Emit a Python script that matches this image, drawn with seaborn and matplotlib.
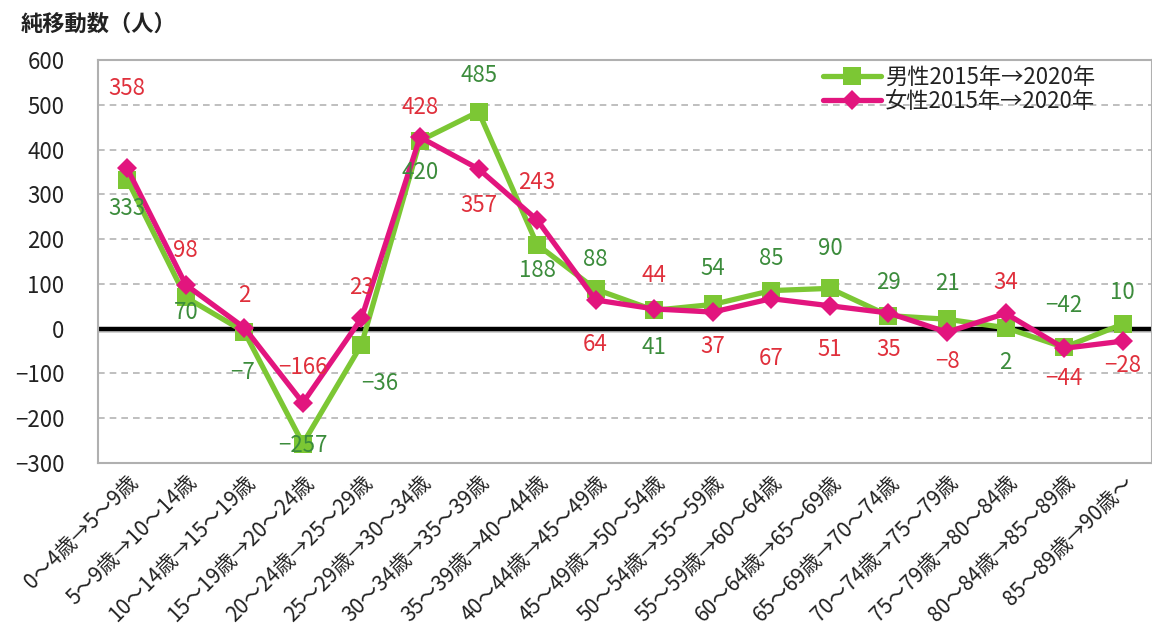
import matplotlib
matplotlib.use('Agg')
import matplotlib.pyplot as plt
import seaborn as sns
import pandas as pd
import numpy as np

# age cohort transitions
categories = [
    '0～4歳→5～9歳', '5～9歳→10～14歳', '10～14歳→15～19歳', '15～19歳→20～24歳',
    '20～24歳→25～29歳', '25～29歳→30～34歳', '30～34歳→35～39歳', '35～39歳→40～44歳',
    '40～44歳→45～49歳', '45～49歳→50～54歳', '50～54歳→55～59歳', '55～59歳→60～64歳',
    '60～64歳→65～69歳', '65～69歳→70～74歳', '70～74歳→75～79歳', '75～79歳→80～84歳',
    '80～84歳→85～89歳', '85～89歳→90歳～',
]
male = [333, 70, -7, -257, -36, 420, 485, 188, 88, 41, 54, 85, 90, 29, 21, 2, -42, 10]
female = [358, 98, 2, -166, 23, 428, 357, 243, 64, 44, 37, 67, 51, 35, -8, 34, -44, -28]
male_label = '男性2015年→2020年'
female_label = '女性2015年→2020年'
y_ticks = [-300, -200, -100, 0, 100, 200, 300, 400, 500, 600]

# value-label offsets in pixels (up is positive)
male_dy = [-29, -15, -41, -2, -39, -32, 36, -26, 30, -37, 36, 32, 40, 33, 36, -35, 42, 32]
male_dx = [0, 0, -2, 0, 18, 0, 0, 0, 0, 0, 0, 0, 0, 0, 0, 0, 0, 0]
female_dy = [80, 34, 32, 35, 31, 30, -37, 37, -45, 33, -34, -60, -44, -37, -29, 31, -30, -24]

GREEN = '#7cc734'
GREEN_TXT = '#3c8c3c'
PINK = '#e2157e'
PINK_TXT = '#e0303c'

sns.set_style('white')
plt.rcParams['font.family'] = ['Noto Sans CJK JP', 'DejaVu Sans']

pos = np.arange(len(categories))
df_m = pd.DataFrame({'pos': pos, 'value': male})
df_f = pd.DataFrame({'pos': pos, 'value': female})

fig = plt.figure(figsize=(11.52, 6.41), dpi=100)
ax = fig.add_axes([0.085, 0.278, 0.915, 0.628])

for y in y_ticks:
    if y not in (0, -300, 600):
        ax.axhline(y, color='#b4b4b4', lw=1.2, ls=(0, (4, 3)), zorder=0)
ax.axhline(-4, color='#cfcfcf', lw=3.5, zorder=1)
ax.axhline(0, color='black', lw=3.2, zorder=1)

sns.lineplot(data=df_m, x='pos', y='value', ax=ax, color=GREEN, lw=3.8,
             marker='s', markersize=13, markeredgewidth=0, label=male_label, zorder=3)
sns.lineplot(data=df_f, x='pos', y='value', ax=ax, color=PINK, lw=3.8,
             marker='D', markersize=10, markeredgewidth=0, label=female_label, zorder=4)

pt = 0.72  # px -> pt at 100 dpi
for i in range(len(categories)):
    ax.annotate(str(male[i]).replace('-', '−'), (pos[i], male[i]),
                xytext=(male_dx[i] * pt, male_dy[i] * pt),
                textcoords='offset points', ha='center', va='center',
                color=GREEN_TXT, fontsize=16, zorder=6)
    ax.annotate(str(female[i]).replace('-', '−'), (pos[i], female[i]),
                xytext=(0, female_dy[i] * pt),
                textcoords='offset points', ha='center', va='center',
                color=PINK_TXT, fontsize=16, zorder=6)

ax.set_xlim(-0.5, len(categories) - 0.5)
ax.set_ylim(-300, 600)
ax.set_yticks(y_ticks)
ax.set_yticklabels([str(v).replace('-', '−') for v in y_ticks], fontsize=16,
                   color='#222222')
ax.set_xticks(pos)
ax.set_xticklabels(categories, rotation=45, ha='right', rotation_mode='anchor',
                   fontsize=15, color='#222222')
ax.tick_params(axis='x', direction='in', length=4, color='#aaaaaa', pad=6)
ax.tick_params(axis='y', length=0, pad=24)
ax.set_xlabel('')
ax.set_ylabel('')
for s in ax.spines.values():
    s.set_color('#b0b0b0')
    s.set_linewidth(1.5)

leg = ax.legend(loc='upper right', bbox_to_anchor=(0.965, 1.035), frameon=False,
                fontsize=16, handlelength=2.6, handletextpad=0.2, labelspacing=0.05)
for t in leg.get_texts():
    t.set_color('#222222')

fig.text(0.018, 0.962, '純移動数（人）', fontsize=16, fontweight='bold', color='#222222',
         va='center')

fig.savefig('out.png', dpi=100)
